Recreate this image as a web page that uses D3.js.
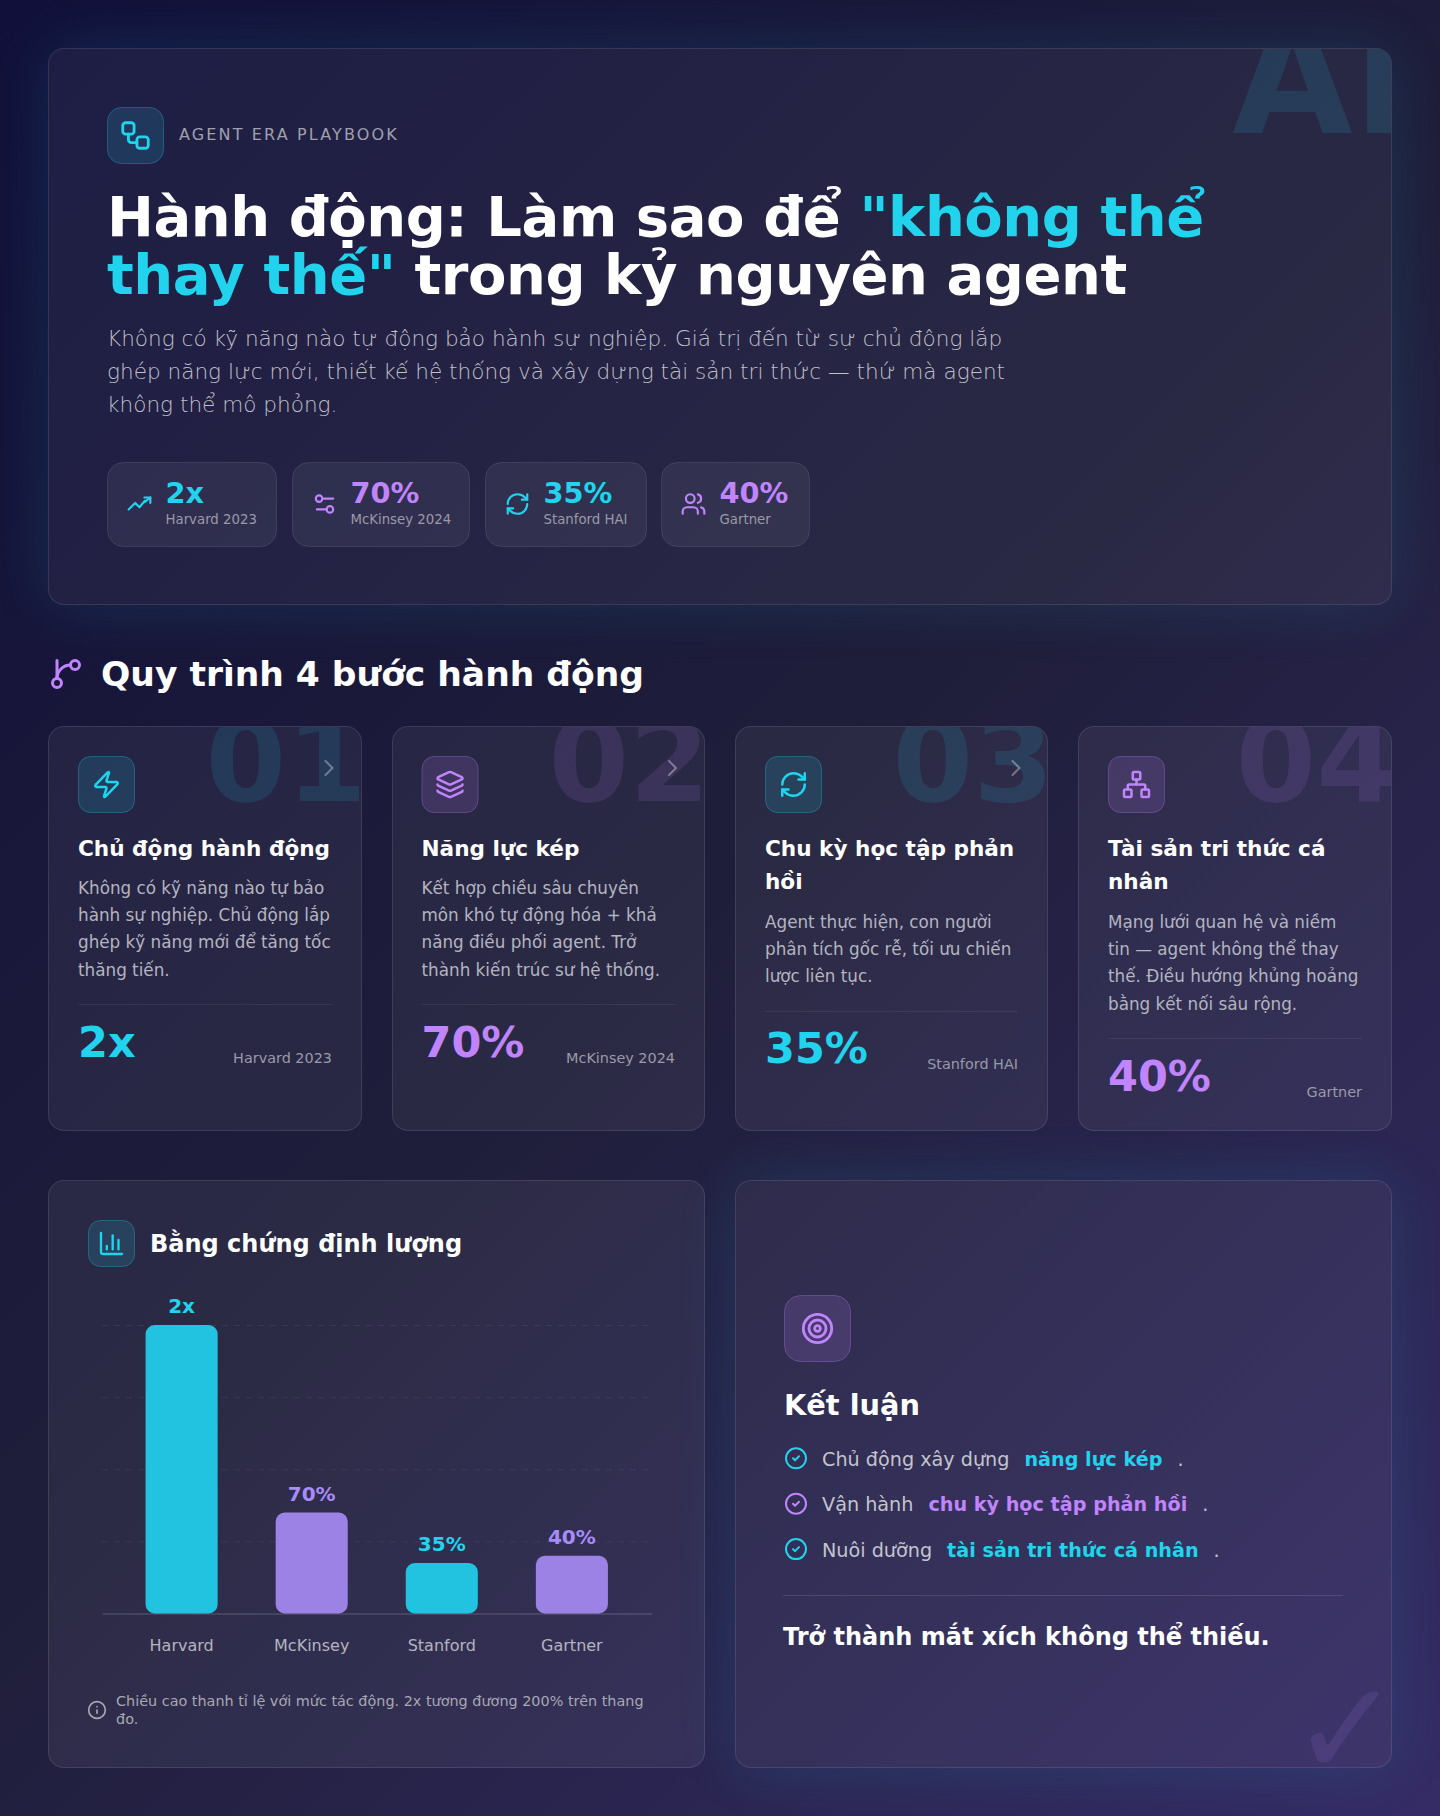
<!DOCTYPE html>
<html>
<head>
<meta charset="UTF-8">
<title>Agent Era Playbook</title>
<style>
  html, body { margin: 0; padding: 0; background: #ffffff; }
  body { font-family: "DejaVu Sans", sans-serif; }
  #page { position: relative; width: 1440px; height: 1816px; overflow: hidden;
          background: linear-gradient(135deg, #11103a 0%, #1f1e3a 50%, #352c66 100%); }
  .card { position: absolute; box-sizing: border-box; overflow: hidden;
          border: 1px solid rgba(255,255,255,0.1); border-radius: 16px; }
  .lbl { position: absolute; white-space: nowrap; }
  svg { position: absolute; left: 0; top: 0; }
</style>
</head>
<body>
<div id="page"></div>
<script src="https://d3js.org/d3.v7.min.js"></script>
<script>
// chart data
var sources = ["Harvard", "McKinsey", "Stanford", "Gartner"];
var impact = [200, 70, 35, 40];
var impactLabels = ["2x", "70%", "35%", "40%"];
var gridTicks = [50, 100, 150, 200];

// header stats
var statValues = ["2x", "70%", "35%", "40%"];
var statSources = ["Harvard 2023", "McKinsey 2024", "Stanford HAI", "Gartner"];

// steps
var stepNumbers = ["01", "02", "03", "04"];
var stepTitles = [
  ["Chủ động hành động"],
  ["Năng lực kép"],
  ["Chu kỳ học tập phản", "hồi"],
  ["Tài sản tri thức cá", "nhân"]
];
var stepBodies = [
  ["Không có kỹ năng nào tự bảo", "hành sự nghiệp. Chủ động lắp", "ghép kỹ năng mới để tăng tốc", "thăng tiến."],
  ["Kết hợp chiều sâu chuyên", "môn khó tự động hóa + khả", "năng điều phối agent. Trở", "thành kiến trúc sư hệ thống."],
  ["Agent thực hiện, con người", "phân tích gốc rễ, tối ưu chiến", "lược liên tục."],
  ["Mạng lưới quan hệ và niềm", "tin — agent không thể thay", "thế. Điều hướng khủng hoảng", "bằng kết nối sâu rộng."]
];

var subLines = [
  "Không có kỹ năng nào tự động bảo hành sự nghiệp. Giá trị đến từ sự chủ động lắp",
  "ghép năng lực mới, thiết kế hệ thống và xây dựng tài sản tri thức — thứ mà agent",
  "không thể mô phỏng."
];
var conclusionLead = ["Chủ động xây dựng", "Vận hành", "Nuôi dưỡng"];
var conclusionKey = ["năng lực kép", "chu kỳ học tập phản hồi", "tài sản tri thức cá nhân"];

var CYAN = "#22d3ee", PURPLE = "#c084fc";
var accent = function(i) { return i % 2 ? PURPLE : CYAN; };

var page = d3.select("#page");
var cards = page.append("div");
var svg = page.append("svg").attr("width", 1440).attr("height", 1816);
var texts = page.append("div");

function card(x, y, w, h, fill, shadow) {
  return cards.append("div").attr("class", "card")
    .style("left", x + "px").style("top", y + "px")
    .style("width", w + "px").style("height", h + "px")
    .style("background", "rgba(255,255,255," + fill + ")")
    .style("box-shadow", shadow || "none");
}

// html text placed by its baseline
function label(parent, x, y, str, size, weight, fill, anchor) {
  var d = parent.append("div").attr("class", "lbl")
    .style("font-size", size + "px").style("font-weight", weight || 400).style("color", fill);
  if (anchor === "end") d.style("right", (parent.node().clientWidth - x) + "px");
  else d.style("left", x + "px");
  d.style("top", "0px");
  var probe = d.append("span").style("display", "inline-block").style("width", 0).style("height", 0);
  d.append("span").html(str);
  var top0 = d.node().getBoundingClientRect().top;
  var base = probe.node().getBoundingClientRect().bottom;
  d.style("top", (y - (base - top0)) + "px");
  return d;
}

// lucide icons on a 24 unit box
var icons = {
  workflow: '<rect x="3" y="3" width="8" height="8" rx="2"/><path d="M7 11v4a2 2 0 0 0 2 2h4"/><rect x="13" y="13" width="8" height="8" rx="2"/>',
  trend: '<path d="M2 17l6-6 4 4 5-6"/><path d="M22 6l-5 4"/><path d="M16.5 6H22v5"/>',
  sliders: '<path d="M20 7h-9"/><path d="M14 17H5"/><circle cx="17" cy="17" r="3"/><circle cx="7" cy="7" r="3"/>',
  refresh: '<path d="M3 12a9 9 0 0 1 9-9 9.75 9.75 0 0 1 6.74 2.74L21 8"/><path d="M21 3v5h-5"/><path d="M21 12a9 9 0 0 1-9 9 9.75 9.75 0 0 1-6.74-2.74L3 16"/><path d="M8 16H3v5"/>',
  users: '<path d="M16 21v-2a4 4 0 0 0-4-4H6a4 4 0 0 0-4 4v2"/><circle cx="9" cy="7" r="4"/><path d="M22 21v-2a4 4 0 0 0-3-3.87"/><path d="M16 3.13a4 4 0 0 1 0 7.75"/>',
  branch: '<line x1="6" y1="3" x2="6" y2="15"/><circle cx="18" cy="6" r="3"/><circle cx="6" cy="18" r="3"/><path d="M15 6a9 9 0 0 0-9 9"/>',
  zap: '<path d="M4 14a1 1 0 0 1-.78-1.63l9.9-10.2a.5.5 0 0 1 .86.46l-1.92 6.02A1 1 0 0 0 13 10h7a1 1 0 0 1 .78 1.63l-9.9 10.2a.5.5 0 0 1-.86-.46l1.92-6.02A1 1 0 0 0 11 14z"/>',
  layers: '<path d="M12.83 2.18a2 2 0 0 0-1.66 0L2.6 6.08a1 1 0 0 0 0 1.83l8.58 3.91a2 2 0 0 0 1.66 0l8.58-3.9a1 1 0 0 0 0-1.83z"/><path d="M2 12a1 1 0 0 0 .58.91l8.6 3.91a2 2 0 0 0 1.65 0l8.58-3.9A1 1 0 0 0 22 12"/><path d="M2 17a1 1 0 0 0 .58.91l8.6 3.91a2 2 0 0 0 1.65 0l8.58-3.9A1 1 0 0 0 22 17"/>',
  network: '<rect x="9" y="2" width="6" height="6" rx="1"/><rect x="16" y="16" width="6" height="6" rx="1"/><rect x="2" y="16" width="6" height="6" rx="1"/><path d="M5 16v-3a1 1 0 0 1 1-1h12a1 1 0 0 1 1 1v3"/><path d="M12 12V8"/>',
  bars: '<path d="M3 3v16a2 2 0 0 0 2 2h16"/><path d="M18 17V9"/><path d="M13 17V5"/><path d="M8 17v-3"/>',
  target: '<circle cx="12" cy="12" r="10"/><circle cx="12" cy="12" r="6"/><circle cx="12" cy="12" r="2"/>',
  check: '<circle cx="12" cy="12" r="10"/><path d="m9 12 2 2 4-4"/>',
  info: '<circle cx="12" cy="12" r="10"/><path d="M12 16v-4"/><path d="M12 8h.01"/>',
  chevron: '<path d="m9 18 6-6-6-6"/>'
};
function icon(name, cx, cy, size, color, sw) {
  var k = size / 24;
  return svg.append("g")
    .attr("transform", "translate(" + (cx - size / 2) + "," + (cy - size / 2) + ") scale(" + k + ")")
    .attr("fill", "none").attr("stroke", color).attr("stroke-width", sw || 2)
    .attr("stroke-linecap", "round").attr("stroke-linejoin", "round")
    .html(icons[name]);
}
function iconBox(x, y, w, h, r, color) {
  svg.append("rect").attr("x", x + 0.5).attr("y", y + 0.5).attr("width", w - 1).attr("height", h - 1).attr("rx", r)
    .attr("fill", color).attr("fill-opacity", 0.15)
    .attr("stroke", color).attr("stroke-opacity", 0.3);
}

// ---- hero ----
var hero = card(48, 48, 1344, 557, 0.05, "0 0 60px rgba(34,211,238,0.13)");
label(hero, 1183, 84, "AI", 156, 700, "rgba(34,211,238,0.12)");
iconBox(107, 107, 57, 57, 14, CYAN);
icon("workflow", 135.5, 135.5, 34, CYAN, 2);
label(texts, 179, 140, "AGENT ERA PLAYBOOK", 16, 400, "#a0a0ae").style("letter-spacing", "2.14px");

var hi = function(s) { return '<span style="color:' + CYAN + '">' + s + '</span>'; };
label(texts, 107, 236, 'Hành động: Làm sao để ' + hi('"không thể'), 56, 700, "#fff").style("letter-spacing", "-0.45px");
label(texts, 107, 294, hi('thay thế"') + ' trong kỷ nguyên agent', 56, 700, "#fff").style("letter-spacing", "-0.45px");

subLines.forEach(function(d, i) {
  label(texts, 107, 346 + i * 33.2, d, 21.6, 300, "rgba(255,255,255,0.72)");
});

// stat pills, left edge and right edge of each
var pillEdges = [[107, 277], [292, 470], [485, 647], [661, 810]];
var pillIcons = ["trend", "sliders", "refresh", "users"];
statValues.forEach(function(v, i) {
  var x = pillEdges[i][0], w = pillEdges[i][1] - x;
  svg.append("rect").attr("x", x + 0.5).attr("y", 462.5).attr("width", w - 1).attr("height", 84).attr("rx", 16)
    .attr("fill", "#ffffff").attr("fill-opacity", 0.06).attr("stroke", "#ffffff").attr("stroke-opacity", 0.1);
  icon(pillIcons[i], x + 32.5, 504, 26, accent(i), 2);
  label(texts, x + 58.5, 502.5, v, 28.8, 700, accent(i));
  label(texts, x + 58.5, 524, statSources[i], 13.3, 400, "#9a9aa8");
});

// ---- steps heading ----
icon("branch", 66, 674, 36, PURPLE, 2);
label(texts, 101, 685.5, "Quy trình 4 bước hành động", 34.5, 700, "#fff");

// ---- step cards ----
var stepLeft = [48, 391.5, 735, 1078];
var stepWidth = [314, 313.5, 313, 314];
var stepIcons = ["zap", "layers", "refresh", "network"];
stepNumbers.forEach(function(n, i) {
  var x = stepLeft[i], w = stepWidth[i];
  var c = card(x, 726, w, 405, 0.055);
  label(c, 318, 73.5, n, 116, 700, accent(i) === CYAN ? "rgba(34,211,238,0.12)" : "rgba(192,132,252,0.12)", "end");
  if (i < 3) icon("chevron", x + 281, 768, 28, "#ffffff", 1.7).attr("stroke-opacity", 0.35);
  iconBox(x + 30, 756, 57, 57, 12, accent(i));
  icon(stepIcons[i], x + 58.5, 784.5, 30, accent(i), 2);

  var tx = x + 30;
  stepTitles[i].forEach(function(line, j) {
    label(texts, tx, 856 + j * 33, line, 21.6, 700, "#fff");
  });
  var bodyY = stepTitles[i].length > 1 ? 928 : 894;
  stepBodies[i].forEach(function(line, j) {
    label(texts, tx, bodyY + j * 27.2, line, 16.8, 400, "#b4b4c0");
  });
  var divY = bodyY + (stepBodies[i].length - 1) * 27.2 + 29;
  svg.append("line").attr("x1", tx).attr("x2", x + w - 30).attr("y1", divY).attr("y2", divY)
    .attr("stroke", "#ffffff").attr("stroke-opacity", 0.08);
  label(texts, tx, divY + 52, statValues[i], 43, 700, accent(i));
  label(texts, x + w - 30, divY + 58, statSources[i], 14.4, 400, "#9a9aa8", "end");
});

// ---- chart card ----
card(48, 1180, 657, 588, 0.06);
iconBox(88, 1220, 47, 47, 12, CYAN);
icon("bars", 111.5, 1243.5, 28, CYAN, 2);
label(texts, 150, 1252, "Bằng chứng định lượng", 24, 700, "#fff");

var xScale = d3.scaleBand().domain(sources).range([102, 651.5]).paddingInner(0.446).paddingOuter(0.335);
var yScale = d3.scaleLinear().domain([0, 200]).range([1613.5, 1325]);

svg.append("g").attr("transform", "translate(102,0)")
  .call(d3.axisLeft(yScale).tickValues(gridTicks).tickSize(-549.5).tickFormat(""))
  .call(function(g) {
    g.select(".domain").remove();
    g.selectAll(".tick line").attr("stroke", "#ffffff").attr("stroke-opacity", 0.07).attr("stroke-dasharray", "6 6");
  });

var rows = sources.map(function(s, i) { return { name: s, value: impact[i], text: impactLabels[i], i: i }; });
svg.append("g").selectAll("rect").data(rows).join("rect")
  .attr("x", function(d) { return xScale(d.name); })
  .attr("y", function(d) { return yScale(d.value); })
  .attr("width", xScale.bandwidth())
  .attr("height", function(d) { return yScale(0) - yScale(d.value); })
  .attr("rx", 9)
  .attr("fill", function(d) { return d.i % 2 ? "#9d82e6" : "#22c3e0"; });

svg.append("g").selectAll("text").data(rows).join("text")
  .attr("x", function(d) { return xScale(d.name) + xScale.bandwidth() / 2; })
  .attr("y", function(d) { return yScale(d.value) - 12; })
  .attr("text-anchor", "middle").attr("font-size", 20).attr("font-weight", 700)
  .attr("font-family", "DejaVu Sans")
  .attr("fill", function(d) { return d.i % 2 ? "#a78bfa" : CYAN; })
  .text(function(d) { return d.text; });

svg.append("g").attr("transform", "translate(0,1613.5)")
  .call(d3.axisBottom(xScale).tickSize(0).tickPadding(26))
  .call(function(g) {
    g.select(".domain").attr("stroke", "#ffffff").attr("stroke-opacity", 0.15).attr("stroke-width", 1.5);
    g.selectAll("text").attr("font-size", 16).attr("font-family", "DejaVu Sans").attr("fill", "#b4b4c0");
  });

icon("info", 97, 1710, 20, "#a8a8b4", 2);
label(texts, 116, 1705.5, "Chiều cao thanh tỉ lệ với mức tác động. 2x tương đương 200% trên thang", 14.4, 400, "#a8a8b4");
label(texts, 116, 1724, "đo.", 14.4, 400, "#a8a8b4");

// ---- conclusion card ----
var end = card(735, 1180, 657, 588, 0.05, "0 0 60px rgba(34,211,238,0.13)");
label(end, 555, 594, "✓", 132, 700, "rgba(192,132,252,0.12)");
iconBox(784, 1295, 67, 67, 16, PURPLE);
icon("target", 817.5, 1328.5, 34, PURPLE, 2);
label(texts, 784, 1414.5, "Kết luận", 28.8, 700, "#fff");

conclusionLead.forEach(function(lead, i) {
  var by = 1465.8 + i * 45.4;
  icon("check", 796, by - 7.5, 24, accent(i), 2);
  var a = label(texts, 822, by, lead, 19.2, 400, "#c4c4ce");
  var ax = 822 + a.node().getBoundingClientRect().width + 15;
  var b = label(texts, ax, by, conclusionKey[i], 19.2, 700, accent(i));
  label(texts, ax + b.node().getBoundingClientRect().width + 15, by, ".", 19.2, 400, "#c4c4ce");
});
svg.append("line").attr("x1", 783).attr("x2", 1343).attr("y1", 1595.5).attr("y2", 1595.5)
  .attr("stroke", "#ffffff").attr("stroke-opacity", 0.12);
label(texts, 783, 1645, "Trở thành mắt xích không thể thiếu.", 24, 700, "#fff");
</script>
</body>
</html>
